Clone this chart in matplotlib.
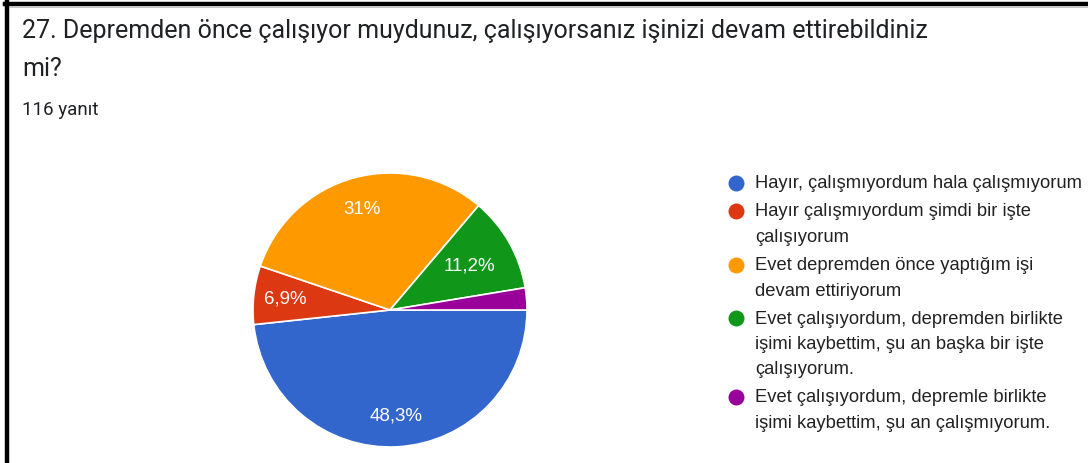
import matplotlib
matplotlib.use("Agg")
import matplotlib.pyplot as plt
from matplotlib.lines import Line2D

title_lines = ["27. Depremden önce çalışıyor muydunuz, çalışıyorsanız işinizi devam ettirebildiniz", "mi?"]
subtitle = "116 yanıt"
categories = [
    "Hayır, çalışmıyordum hala çalışmıyorum",
    "Hayır çalışmıyordum şimdi bir işte\nçalışıyorum",
    "Evet depremden önce yaptığım işi\ndevam ettiriyorum",
    "Evet çalışıyordum, depremden birlikte\nişimi kaybettim, şu an başka bir işte\nçalışıyorum.",
    "Evet çalışıyordum, depremle birlikte\nişimi kaybettim, şu an çalışmıyorum.",
]
values = [48.3, 6.9, 31.0, 11.2, 2.6]
colors = ["#3366CC", "#DC3912", "#FF9900", "#109618", "#990099"]

W, H = 1088, 464
fig = plt.figure(figsize=(W / 100, H / 100), dpi=100)
fig.patch.set_facecolor("white")

def fx(x):
    return x / W

def fy(y):
    return 1 - y / H

# border (left and top)
fig.add_artist(Line2D([fx(7), fx(7)], [fy(3), fy(H)], color="black", lw=3.2, transform=fig.transFigure))
fig.add_artist(Line2D([fx(5), fx(W)], [fy(5), fy(5)], color="black", lw=3.2, transform=fig.transFigure))
fig.add_artist(Line2D([fx(9), fx(W)], [fy(8), fy(8)], color="#bbbbbb", lw=0.6, transform=fig.transFigure))

# titles
fig.text(fx(22), fy(31), title_lines[0], fontsize=18, family="Roboto", color="#202124", va="center", ha="left")
fig.text(fx(22), fy(69), title_lines[1], fontsize=18, family="Roboto", color="#202124", va="center", ha="left")
fig.text(fx(22), fy(110), subtitle, fontsize=13.5, family="Roboto", color="#202124", va="center", ha="left")

# pie
cx, cy, r = 390, 311, 137
box = 140
ax = fig.add_axes([fx(cx - box), fy(cy + box), 2 * box / W, 2 * box / H])

def fmt(p):
    if p < 5:
        return ""
    s = f"{p:.1f}".replace(".", ",")
    if s.endswith(",0"):
        s = s[:-2]
    return s + "%"

wedges, texts, autotexts = ax.pie(
    values, colors=colors, radius=r, startangle=0, counterclock=False,
    autopct=fmt, pctdistance=0.77,
    wedgeprops=dict(edgecolor="white", linewidth=1.2),
    textprops=dict(color="white", fontsize=13.5, family="Liberation Sans"),
)
ax.set_xlim(-box, box)
ax.set_ylim(-box, box)
ax.set_aspect("equal")
ax.axis("off")
# green label sits a bit closer to center in the reference
x, y = autotexts[3].get_position()
autotexts[3].set_position((x * 0.86, y * 0.86))

# legend
line_h = 25.5
gap = 2.5
y0 = 184
for i, (lab, col) in enumerate(zip(categories, colors)):
    fig.add_artist(Line2D([fx(736)], [fy(y0)], marker="o", markersize=11.5, color=col,
                          markeredgewidth=0, transform=fig.transFigure))
    for j, part in enumerate(lab.split("\n")):
        fig.text(fx(755), fy(y0 + j * line_h), part, fontsize=13.2, family="Liberation Sans",
                 color="#222222", ha="left", va="center")
    y0 += len(lab.split("\n")) * line_h + gap

fig.savefig("out.png", dpi=100, facecolor="white")
